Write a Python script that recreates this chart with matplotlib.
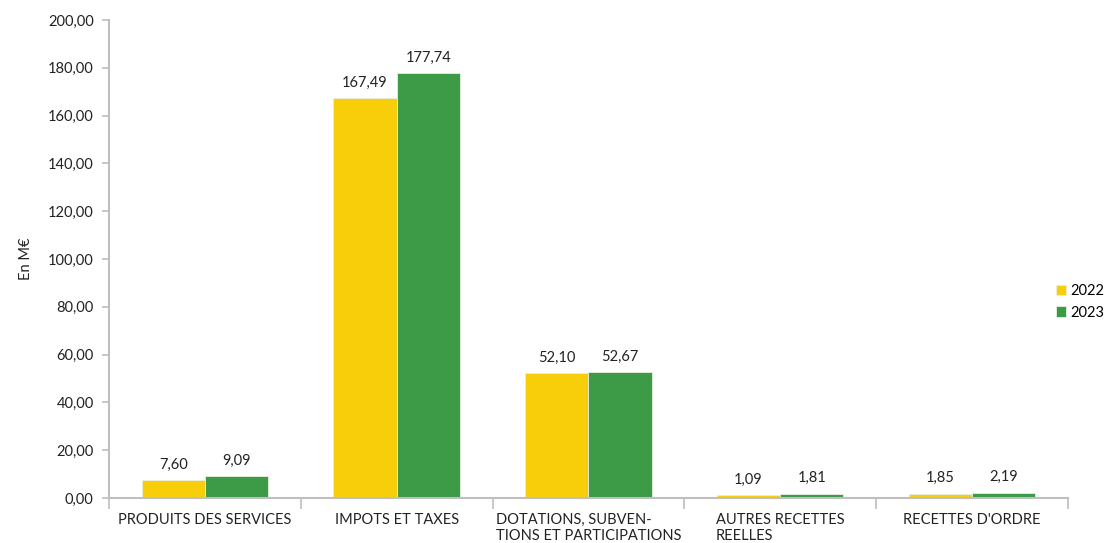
import numpy as np
import matplotlib.pyplot as plt
from matplotlib.ticker import FuncFormatter

plt.rcParams['font.family'] = ['Lato', 'DejaVu Sans']

# recettes par chapitre, en M€
categories = ['PRODUITS DES SERVICES', 'IMPOTS ET TAXES',
              'DOTATIONS, SUBVEN-\nTIONS ET PARTICIPATIONS',
              'AUTRES RECETTES\nREELLES', "RECETTES D'ORDRE"]
years = ['2022', '2023']
values_2022 = [7.60, 167.49, 52.10, 1.09, 1.85]
values_2023 = [9.09, 177.74, 52.67, 1.81, 2.19]
colors = ['#F8CE0B', '#3D9A46']

fig = plt.figure(figsize=(11.09, 5.43), dpi=100)
ax = fig.add_axes([0.0983, 0.083, 0.8645, 0.880])

x = np.arange(len(categories))
w = 0.33
grey = '#BFBFBF'
txt = '#222222'
fs = 10.5

for i, (vals, col, lab) in enumerate(zip([values_2022, values_2023], colors, years)):
    pos = x + (i - 0.5) * w
    bars = ax.bar(pos, vals, width=w, color=col, edgecolor='#E8EFE0',
                  linewidth=0.6, label=lab, zorder=2)
    for b, v in zip(bars, vals):
        ax.text(b.get_x() + b.get_width() / 2, v + 3.5,
                ('%.2f' % v).replace('.', ','), ha='center', va='bottom',
                fontsize=fs, color=txt)

ax.set_xlim(-0.5, len(categories) - 0.5)
ax.set_ylim(0, 200)
ax.set_yticks(np.arange(0, 201, 20))
ax.yaxis.set_major_formatter(FuncFormatter(lambda v, p: ('%.2f' % v).replace('.', ',')))

# x ticks at category boundaries, labels centred in between
ax.set_xticks(np.arange(-0.5, len(categories)), minor=False)
ax.set_xticklabels([])
ax.set_xticks(x, minor=True)
ax.set_xticklabels(categories, minor=True, fontsize=fs, color=txt,
                   va='top', ha='center')
ax.tick_params(axis='x', which='minor', length=0, pad=11)
ax.tick_params(axis='x', which='major', length=8, color=grey, width=1.2)
ax.tick_params(axis='y', length=5, color=grey, width=1.2, labelsize=fs,
               labelcolor=txt, pad=6)
for lbl in ax.get_xticklabels(minor=True):
    lbl.set_multialignment('left')

for s in ['top', 'right']:
    ax.spines[s].set_visible(False)
for s in ['left', 'bottom']:
    ax.spines[s].set_color(grey)
    ax.spines[s].set_linewidth(1.5)

ax.set_ylabel('En M€', fontsize=fs, color=txt, labelpad=11)

ax.legend(loc='center left', bbox_to_anchor=(0.988, 0.41), frameon=False,
          fontsize=fs, handlelength=0.7, handleheight=0.7, handletextpad=0.3,
          labelspacing=0.5, borderpad=0, borderaxespad=0)

fig.savefig('out.png', dpi=100)
